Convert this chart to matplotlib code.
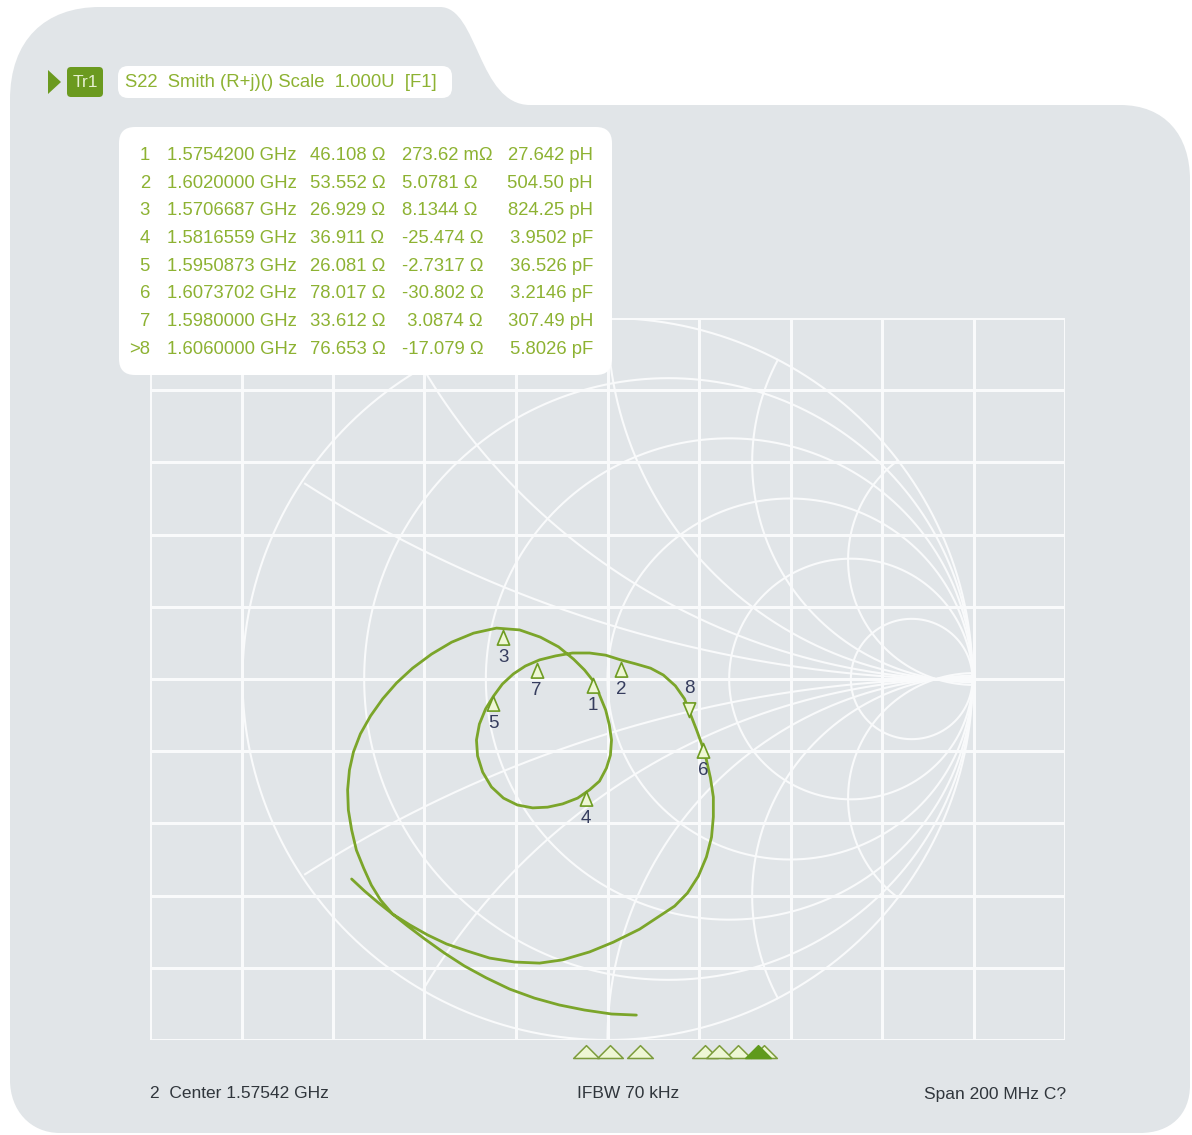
import numpy as np
import matplotlib
matplotlib.use("Agg")
import matplotlib.pyplot as plt
from matplotlib.path import Path
from matplotlib.patches import PathPatch, FancyBboxPatch, Polygon
from matplotlib import font_manager as fm

# ------------------------------------------------------------------ data
trace_name = "Tr1"
trace_title = "S22  Smith (R+j)() Scale  1.000U  [F1]"
center_ghz = 1.57542
span_mhz = 200
ifbw_khz = 70
z0 = 50.0

marker_ids = [1, 2, 3, 4, 5, 6, 7, 8]
active_marker = 8
marker_freq_ghz = [1.5754200, 1.6020000, 1.5706687, 1.5816559,
                   1.5950873, 1.6073702, 1.5980000, 1.6060000]
marker_r_ohm = [46.108, 53.552, 26.929, 36.911, 26.081, 78.017, 33.612, 76.653]
marker_x_ohm = [0.27362, 5.0781, 8.1344, -25.474, -2.7317, -30.802, 3.0874, -17.079]
marker_x_txt = ["273.62 m\u03a9", "5.0781 \u03a9", "8.1344 \u03a9", "-25.474 \u03a9",
                "-2.7317 \u03a9", "-30.802 \u03a9", " 3.0874 \u03a9", "-17.079 \u03a9"]
marker_lc_txt = ["27.642 pH", "504.50 pH", "824.25 pH", "3.9502 pF",
                 "36.526 pF", "3.2146 pF", "307.49 pH", "5.8026 pF"]

trace_re = [0.079, 0.011, -0.063, -0.132, -0.200, -0.268, -0.332, -0.392, -0.447, -0.501,
            -0.548, -0.589, -0.622, -0.647, -0.668, -0.688, -0.701, -0.710, -0.712, -0.707,
            -0.696, -0.677, -0.649, -0.616, -0.578, -0.534, -0.482, -0.427, -0.367, -0.304,
            -0.241, -0.184, -0.134, -0.093, -0.063, -0.041, -0.022, -0.005, 0.005, 0.011,
            0.008, -0.003, -0.022, -0.049, -0.082, -0.123, -0.164, -0.205, -0.247, -0.285,
            -0.318, -0.342, -0.356, -0.359, -0.351, -0.334, -0.312, -0.288, -0.258, -0.225,
            -0.186, -0.142, -0.096, -0.049, -0.005, 0.036, 0.077, 0.118, 0.153, 0.186,
            0.211, 0.227, 0.244, 0.258, 0.271, 0.282, 0.290, 0.290, 0.285, 0.271,
            0.249, 0.219, 0.184, 0.142, 0.088, 0.016, -0.049, -0.123, -0.186, -0.255,
            -0.323, -0.386, -0.441, -0.493, -0.542, -0.589, -0.630, -0.666, -0.701]
trace_im = [-0.931, -0.928, -0.917, -0.903, -0.884, -0.859, -0.828, -0.795, -0.759, -0.720,
            -0.684, -0.651, -0.612, -0.571, -0.524, -0.474, -0.418, -0.363, -0.307, -0.252,
            -0.202, -0.152, -0.102, -0.055, -0.011, 0.030, 0.069, 0.102, 0.127, 0.141,
            0.136, 0.116, 0.089, 0.055, 0.025, -0.003, -0.044, -0.086, -0.127, -0.169,
            -0.211, -0.247, -0.283, -0.307, -0.330, -0.346, -0.355, -0.357, -0.349, -0.330,
            -0.299, -0.258, -0.213, -0.169, -0.125, -0.083, -0.047, -0.014, 0.014, 0.036,
            0.053, 0.064, 0.072, 0.072, 0.066, 0.053, 0.042, 0.030, 0.011, -0.019,
            -0.055, -0.097, -0.141, -0.180, -0.224, -0.274, -0.327, -0.382, -0.438, -0.493,
            -0.546, -0.593, -0.629, -0.657, -0.693, -0.729, -0.756, -0.778, -0.787, -0.784,
            -0.773, -0.753, -0.734, -0.709, -0.681, -0.651, -0.618, -0.587, -0.554]

r_circles = [0.0, 0.2, 0.5, 1.0, 2.0, 5.0]
x_arc_centres = [3.37, 1.75, 1.0, 0.6, 0.33]
x_arc_meet = 0.9

# ------------------------------------------------------------------ style
W, H = 1192, 1135
PANEL = "#e1e5e8"
GRID = "#f9fafb"
TRACE = "#7ba52a"
TXT_GREEN = "#8db232"
DARK_GREEN = "#6b9a1f"
NAVY = "#363d5e"
FOOT = "#30363c"
MK_FILL = "#eef7d4"
MK_EDGE = "#6e9c22"

names = {f.name for f in fm.fontManager.ttflist}
SANS = "Liberation Sans" if "Liberation Sans" in names else "DejaVu Sans"
plt.rcParams["font.family"] = [SANS, "DejaVu Sans"]

fig = plt.figure(figsize=(W / 100, H / 100), dpi=100)
fig.patch.set_facecolor("white")

bg = fig.add_axes([0, 0, 1, 1])
bg.set_xlim(0, W)
bg.set_ylim(H, 0)
bg.axis("off")

# panel outline (folder-tab shape)
M, L, C4, CL = Path.MOVETO, Path.LINETO, Path.CURVE4, Path.CLOSEPOLY
verts = [(10, 1080), (10, 100),
         (10, 40), (45, 7), (100, 7),
         (440, 7),
         (478, 7), (478, 105), (530, 105),
         (1120, 105),
         (1165, 105), (1190, 135), (1190, 180),
         (1190, 1085),
         (1190, 1115), (1170, 1133), (1140, 1133),
         (60, 1133),
         (30, 1133), (10, 1110), (10, 1080),
         (10, 1080)]
codes = [M, L, C4, C4, C4, L, C4, C4, C4, L, C4, C4, C4, L, C4, C4, C4, L, C4, C4, C4, CL]
bg.add_patch(PathPatch(Path(verts, codes), facecolor=PANEL, edgecolor="none"))

# footer
f_start = center_ghz - span_mhz / 2000.0
f_stop = center_ghz + span_mhz / 2000.0
foot_kw = dict(fontsize=12.5, color=FOOT, va="center")
bg.text(150, 1094, f"2  Center {center_ghz:.5f} GHz", ha="left", **foot_kw)
bg.text(628, 1094, f"IFBW {ifbw_khz} kHz", ha="center", **foot_kw)
bg.text(1066, 1094, f"Span {span_mhz} MHz C?", ha="right", **foot_kw)

# ------------------------------------------------------------------ Smith chart
ax = fig.add_axes([150 / W, (H - 1040) / H, 915 / W, 722 / H])
xr = 457.5 / 365.0
ax.set_xlim(-xr, xr)
ax.set_ylim(-1, 1)
ax.axis("off")
ax.patch.set_visible(False)

for xv in np.linspace(-xr, xr, 11):
    ax.plot([xv, xv], [-1, 1], color=GRID, lw=2.2, zorder=1, solid_capstyle="butt")
for yv in np.linspace(-1, 1, 11):
    ax.plot([-xr, xr], [yv, yv], color=GRID, lw=2.2, zorder=1, solid_capstyle="butt")

t = np.linspace(0, 2 * np.pi, 1441)
for r in r_circles:
    c = r / (1 + r)
    rad = 1 / (1 + r)
    ax.plot(c + rad * np.cos(t), rad * np.sin(t), color=GRID, lw=1.5, zorder=2)

h = (x_arc_meet + 1 / x_arc_meet) / 2
for k in x_arc_centres:
    for s in (1, -1):
        R = np.sqrt(h * h + k * k - 1)
        a0 = np.arctan2(-s * k, 1 / x_arc_meet - h)
        tt = a0 + t
        xs = h + R * np.cos(tt)
        ys = s * k + R * np.sin(tt)
        inside = xs ** 2 + ys ** 2 <= 1.0
        xs = np.where(inside, xs, np.nan)
        ys = np.where(inside, ys, np.nan)
        ax.plot(xs, ys, color=GRID, lw=1.5, zorder=2)

ax.plot(trace_re, trace_im, color=TRACE, lw=2.0, zorder=4,
        solid_joinstyle="round", solid_capstyle="round")

up_tri = Path([(0, 0), (-0.42, -1), (0.42, -1), (0, 0)], [M, L, L, CL])
down_tri = Path([(0, 0), (-0.42, 1), (0.42, 1), (0, 0)], [M, L, L, CL])
for mid, rr, xx in zip(marker_ids, marker_r_ohm, marker_x_ohm):
    z = complex(rr, xx) / z0
    g = (z - 1) / (z + 1)
    if mid == active_marker:
        mk, dy = down_tri, 20
    else:
        mk, dy = up_tri, -19.5
    ax.plot([g.real], [g.imag], marker=mk, ms=21, mfc=MK_FILL, mec=MK_EDGE, mew=1.2,
            ls="none", zorder=6)
    ax.annotate(str(mid), (g.real, g.imag), xytext=(0, dy), textcoords="offset points",
                ha="center", va="center", fontsize=13.5, color=NAVY, zorder=7)

# marker strip under the grid
ax2 = fig.add_axes([125 / W, (H - 1058) / H, 969 / W, 20 / H])
ax2.set_xlim(f_start, f_stop)
ax2.set_ylim(0, 1)
ax2.axis("off")
ax2.patch.set_visible(False)
strip_tri = Path([(-1, 0), (1, 0), (0, 1), (-1, 0)], [M, L, L, CL])
for mid, f in zip(marker_ids, marker_freq_ghz):
    if mid == active_marker:
        continue
    ax2.plot([f], [0], marker=strip_tri, ms=18.5, mfc=MK_FILL, mec="#7c9c3c", mew=1.1,
             ls="none", clip_on=False)
for mid, f in zip(marker_ids, marker_freq_ghz):
    if mid == active_marker:
        ax2.plot([f], [0], marker=strip_tri, ms=18.5, mfc="#5f9a1c", mec="#5f9a1c", mew=1.1,
                 ls="none", clip_on=False)

# ------------------------------------------------------------------ overlay: header + table
top = fig.add_axes([0, 0, 1, 1])
top.set_xlim(0, W)
top.set_ylim(H, 0)
top.axis("off")
top.patch.set_visible(False)

top.add_patch(Polygon([(48, 70), (48, 94), (61, 82)], closed=True, facecolor=DARK_GREEN,
                      edgecolor="none"))
top.add_patch(FancyBboxPatch((67, 67), 36, 30, boxstyle="round,pad=0,rounding_size=4",
                             facecolor=DARK_GREEN, edgecolor="none"))
top.text(85, 82.5, trace_name, fontsize=12.5, color="#e6efcf", ha="center", va="center")
top.add_patch(FancyBboxPatch((118, 66), 334, 32, boxstyle="round,pad=0,rounding_size=10",
                             facecolor="white", edgecolor="none"))
top.text(125, 82.5, trace_title, fontsize=13.3, color=TXT_GREEN, ha="left", va="center")

top.add_patch(FancyBboxPatch((119, 127), 493, 248, boxstyle="round,pad=0,rounding_size=16",
                             facecolor="white", edgecolor="none"))
for i, (mid, f, rr, xt, lc) in enumerate(zip(marker_ids, marker_freq_ghz, marker_r_ohm,
                                             marker_x_txt, marker_lc_txt)):
    y = 155.5 + i * 27.7
    lab = (">" if mid == active_marker else "") + str(mid)
    kw = dict(fontsize=13.3, color=TXT_GREEN, va="center")
    top.text(150, y, lab, ha="right", **kw)
    top.text(167, y, f"{f:.7f} GHz", ha="left", **kw)
    top.text(310, y, f"{rr:.3f} \u03a9", ha="left", **kw)
    top.text(402, y, xt, ha="left", **kw)
    top.text(593, y, lc, ha="right", **kw)

fig.savefig("out.png", dpi=100, facecolor="white")
